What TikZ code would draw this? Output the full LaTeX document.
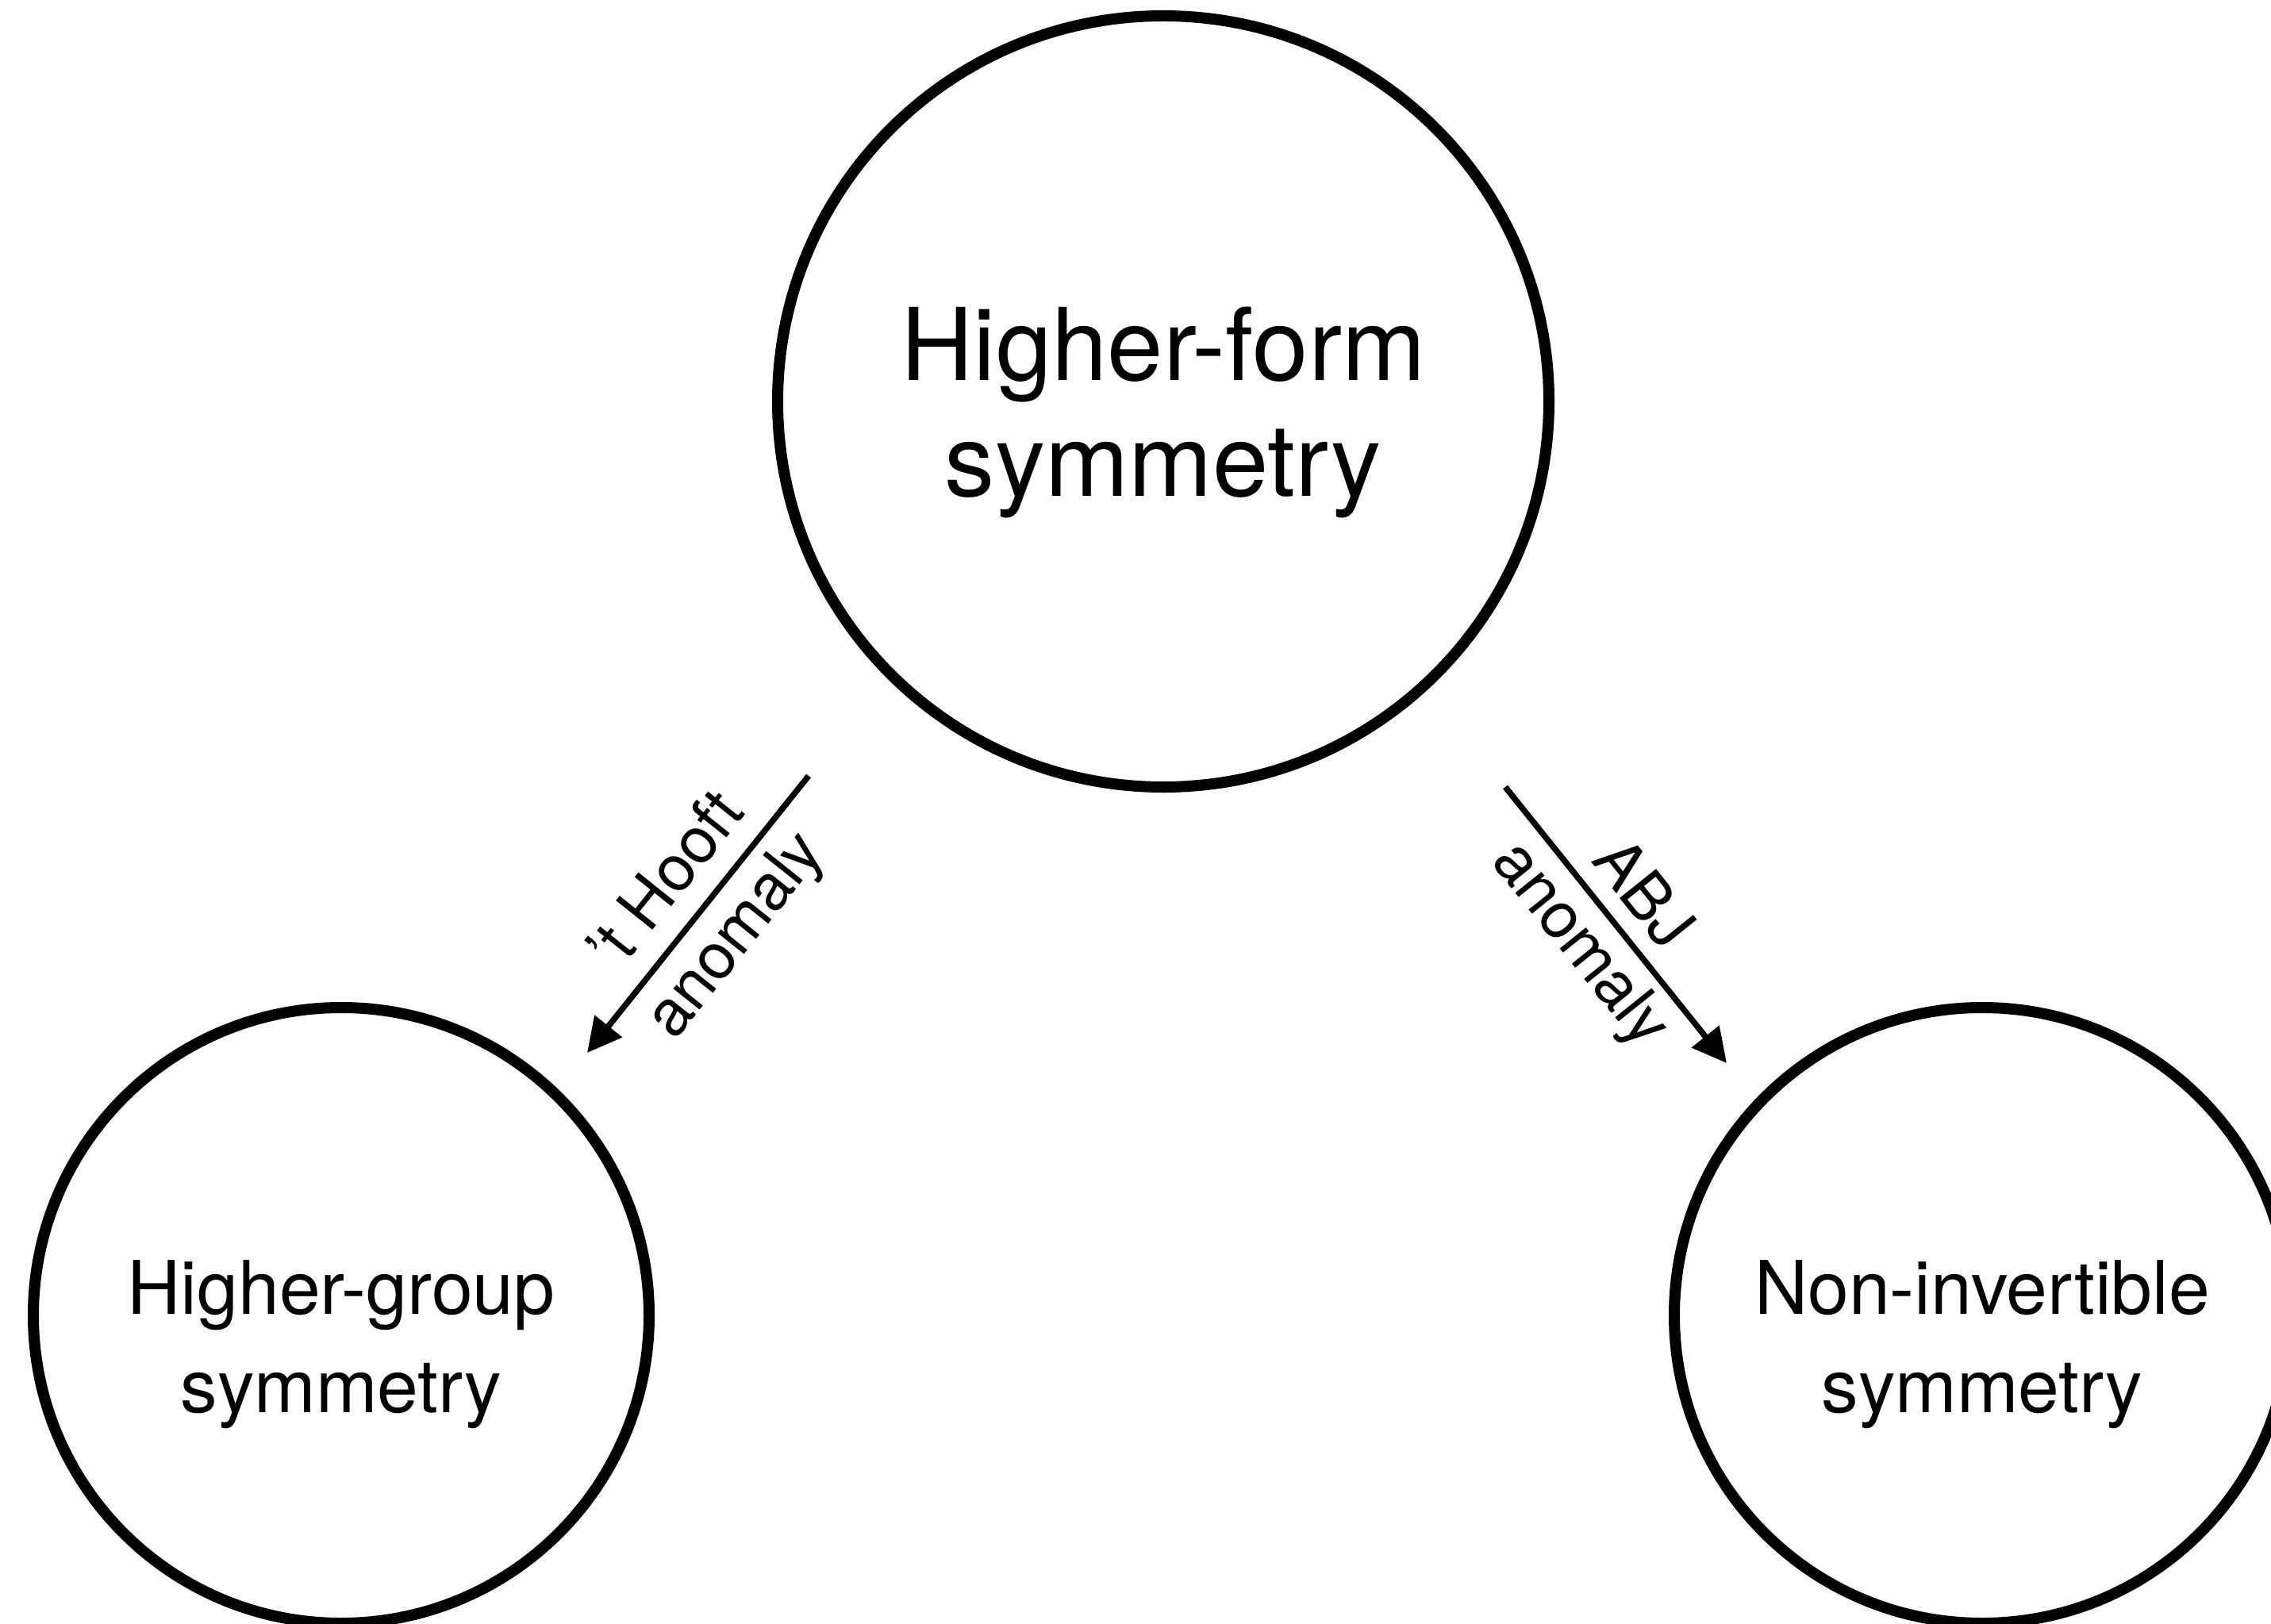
\documentclass[tikz,border=0pt]{standalone}
\usepackage{fontspec}
\setmainfont{TeX Gyre Heros}
\usetikzlibrary{arrows.meta}
\begin{document}
\begin{tikzpicture}[x=1mm,y=1mm,
  circ/.style={draw=black, line width=1.4mm, circle, inner sep=0pt},
  bigtxt/.style={align=center, inner sep=0pt, font=\fontsize{36}{41.5}\selectfont},
  smalltxt/.style={align=center, inner sep=0pt, font=\fontsize{26.5}{35.2}\selectfont},
  lbl/.style={inner sep=0pt, font=\fontsize{23}{27}\selectfont},
  arr/.style={line width=0.75mm, -{Triangle[length=4.3mm,width=4.3mm]}}]
\useasboundingbox (0,0) rectangle (286.2,204.6);
\node[circ, minimum size=97.2mm] (hf) at (146.6,154.0) {};
\node[circ, minimum size=77.6mm] (hg) at (43.0,38.8) {};
\node[circ, minimum size=77.6mm] (ni) at (249.8,38.8) {};
\node[bigtxt] (hft) at ([yshift=-1.4mm]hf.center) {Higher-form\\symmetry};
\node[smalltxt] (hgt) at ([yshift=-3.7mm]hg.center) {Higher-group\\symmetry};
\node[smalltxt] (nit) at ([yshift=-3.7mm]ni.center) {Non-invertible\\symmetry};
\coordinate (s1) at (101.9,106.8);
\coordinate (t1) at (74.0,71.9);
\coordinate (s2) at (189.7,105.4);
\coordinate (t2) at (217.6,70.6);
\draw[arr] (s1) -- (t1);
\draw[arr] (s2) -- (t2);
\path (t1) -- (s1)
  node[lbl, pos=0.52, sloped, above=8.5pt] (l1a) {’t Hooft}
  node[lbl, pos=0.52, sloped, below=5pt] (l1b) {anomaly};
\path (s2) -- (t2)
  node[lbl, pos=0.48, sloped, above=6.5pt] (l2a) {ABJ}
  node[lbl, pos=0.48, sloped, below=4pt] (l2b) {anomaly};
\end{tikzpicture}
\end{document}
